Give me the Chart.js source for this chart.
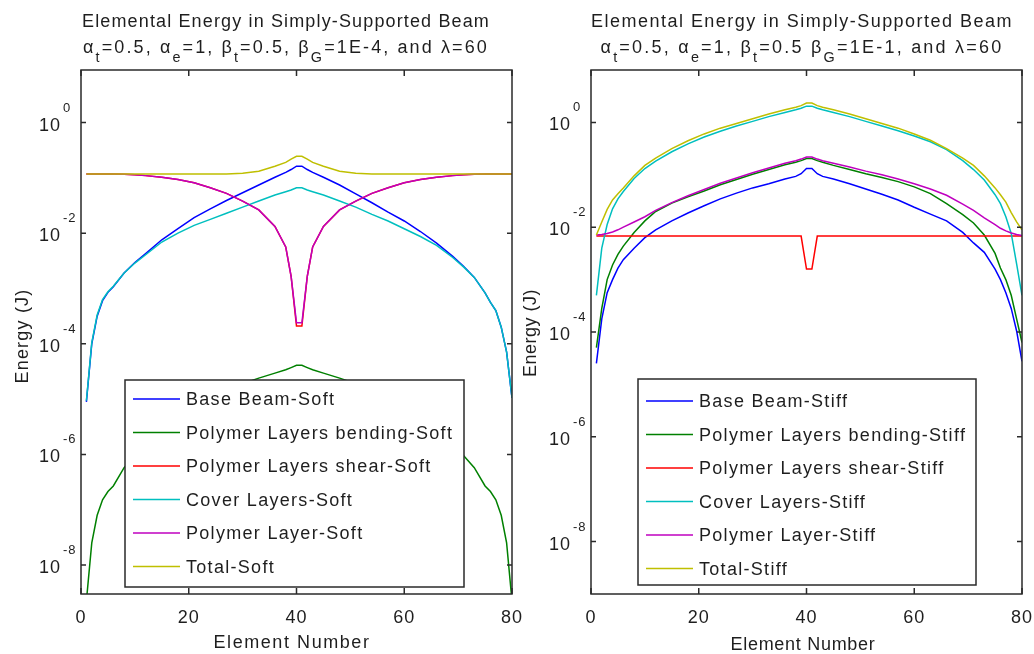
<!DOCTYPE html>
<html>
<head>
<meta charset="utf-8">
<script src="https://cdn.jsdelivr.net/npm/chart.js@4.4.1/dist/chart.umd.min.js"></script>
<style>
  body { margin: 0; background: #fff; }
  #wrap { position: relative; width: 1034px; height: 654px; overflow: hidden; }
  canvas { position: absolute; top: 0; }
</style>
</head>
<body>
<div id="wrap">
  <canvas id="soft" width="540" height="654" style="left:0"></canvas>
  <canvas id="stiff" width="517" height="654" style="left:517px"></canvas>
</div>
<script>
// element numbers where values were read off the plot
var elements = [1, 2, 3, 4, 5, 6, 8, 10, 12, 15, 18, 21, 24, 27, 30, 33, 36, 38, 39, 40,
                41, 42, 43, 45, 48, 51, 54, 57, 60, 63, 66, 69, 71, 73, 75, 76, 77, 78, 79, 80];

var xTicks = [0, 20, 40, 60, 80];
var yTickExps = [0, -2, -4, -6, -8];

var namesSoft = ['Base Beam-Soft', 'Polymer Layers bending-Soft', 'Polymer Layers shear-Soft',
                 'Cover Layers-Soft', 'Polymer Layer-Soft', 'Total-Soft'];
var namesStiff = ['Base Beam-Stiff', 'Polymer Layers bending-Stiff', 'Polymer Layers shear-Stiff',
                  'Cover Layers-Stiff', 'Polymer Layer-Stiff', 'Total-Stiff'];
var lineColors = ['#0000ff', '#008000', '#ff0000', '#00bfbf', '#bf00bf', '#bfbf00'];

// log10 of energy (J), soft core (beta_G = 1E-4)
var logBaseSoft = [-5.05, -4.0, -3.5, -3.22, -3.07, -2.97, -2.72, -2.53, -2.37, -2.12, -1.92, -1.72, -1.56, -1.41, -1.27, -1.13, -0.99, -0.9, -0.85, -0.79,
                   -0.79, -0.85, -0.9, -0.99, -1.13, -1.29, -1.45, -1.62, -1.78, -1.97, -2.18, -2.42, -2.6, -2.8, -3.08, -3.25, -3.4, -3.7, -4.15, -4.98];
var logBendSoft = [-8.65, -7.6, -7.1, -6.82, -6.67, -6.57, -6.24, -6.02, -5.83, -5.56, -5.34, -5.14, -4.98, -4.84, -4.72, -4.62, -4.53, -4.47, -4.43, -4.39,
                   -4.39, -4.43, -4.47, -4.53, -4.62, -4.72, -4.84, -4.98, -5.14, -5.34, -5.56, -5.83, -6.02, -6.24, -6.57, -6.67, -6.82, -7.1, -7.6, -8.65];
var logShearSoft = [-0.93, -0.93, -0.93, -0.93, -0.93, -0.93, -0.935, -0.945, -0.96, -0.99, -1.03, -1.09, -1.18, -1.28, -1.42, -1.58, -1.88, -2.25, -2.78, -3.68,
                    -3.68, -2.78, -2.25, -1.88, -1.58, -1.42, -1.28, -1.18, -1.09, -1.03, -0.99, -0.96, -0.945, -0.935, -0.93, -0.93, -0.93, -0.93, -0.93, -0.93];
var logCoverSoft = [-5.03, -3.98, -3.48, -3.2, -3.06, -2.96, -2.72, -2.54, -2.39, -2.16, -2.0, -1.86, -1.75, -1.64, -1.53, -1.42, -1.31, -1.25, -1.22, -1.18,
                    -1.18, -1.22, -1.25, -1.31, -1.42, -1.53, -1.66, -1.78, -1.92, -2.06, -2.22, -2.44, -2.61, -2.8, -3.08, -3.25, -3.4, -3.7, -4.15, -4.98];
var logLayerSoft = [-0.93, -0.93, -0.93, -0.93, -0.93, -0.93, -0.935, -0.945, -0.96, -0.99, -1.03, -1.09, -1.18, -1.28, -1.42, -1.58, -1.88, -2.25, -2.78, -3.62,
                    -3.62, -2.78, -2.25, -1.88, -1.58, -1.42, -1.28, -1.18, -1.09, -1.03, -0.99, -0.96, -0.945, -0.935, -0.93, -0.93, -0.93, -0.93, -0.93, -0.93];
var logTotalSoft = [-0.93, -0.93, -0.93, -0.93, -0.93, -0.93, -0.93, -0.93, -0.93, -0.93, -0.93, -0.93, -0.93, -0.93, -0.915, -0.88, -0.79, -0.72, -0.66, -0.61,
                    -0.61, -0.66, -0.72, -0.79, -0.88, -0.915, -0.93, -0.93, -0.93, -0.93, -0.93, -0.93, -0.93, -0.93, -0.93, -0.93, -0.93, -0.93, -0.93, -0.93];

// log10 of energy (J), stiff core (beta_G = 1E-1)
var logBaseStiff = [-4.6, -3.75, -3.25, -3.0, -2.78, -2.62, -2.4, -2.2, -2.05, -1.88, -1.73, -1.59, -1.46, -1.35, -1.25, -1.17, -1.08, -1.03, -0.98, -0.88,
                    -0.88, -0.98, -1.03, -1.08, -1.17, -1.27, -1.37, -1.48, -1.62, -1.75, -1.88, -2.1, -2.3, -2.48, -2.8, -3.0, -3.25, -3.55, -3.98, -4.56];
var logBendStiff = [-4.3, -3.55, -3.0, -2.72, -2.52, -2.36, -2.1, -1.88, -1.7, -1.54, -1.42, -1.31, -1.19, -1.09, -0.99, -0.9, -0.81, -0.76, -0.73, -0.69,
                    -0.69, -0.73, -0.76, -0.82, -0.9, -0.98, -1.05, -1.13, -1.23, -1.36, -1.55, -1.76, -1.92, -2.15, -2.5, -2.78, -3.0, -3.3, -3.75, -4.2];
var logShearStiff = [-2.17, -2.17, -2.17, -2.17, -2.17, -2.17, -2.17, -2.17, -2.17, -2.17, -2.17, -2.17, -2.17, -2.17, -2.17, -2.17, -2.17, -2.17, -2.17, -2.8,
                     -2.8, -2.17, -2.17, -2.17, -2.17, -2.17, -2.17, -2.17, -2.17, -2.17, -2.17, -2.17, -2.17, -2.17, -2.17, -2.17, -2.17, -2.17, -2.17, -2.17];
var logCoverStiff = [-3.3, -2.4, -1.95, -1.65, -1.46, -1.32, -1.07, -0.88, -0.74, -0.56, -0.41, -0.28, -0.17, -0.07, 0.02, 0.11, 0.19, 0.24, 0.27, 0.31,
                     0.31, 0.27, 0.24, 0.19, 0.11, 0.02, -0.07, -0.16, -0.26, -0.37, -0.52, -0.73, -0.9, -1.1, -1.38, -1.55, -1.8, -2.12, -2.7, -3.3];
var logLayerStiff = [-2.15, -2.14, -2.12, -2.09, -2.05, -2.0, -1.9, -1.8, -1.68, -1.53, -1.4, -1.28, -1.16, -1.06, -0.96, -0.87, -0.78, -0.73, -0.7, -0.66,
                     -0.66, -0.7, -0.73, -0.78, -0.85, -0.93, -1.0, -1.08, -1.17, -1.27, -1.39, -1.56, -1.68, -1.82, -1.95, -2.02, -2.07, -2.11, -2.14, -2.16];
var logTotalStiff = [-2.15, -1.9, -1.66, -1.48, -1.36, -1.25, -1.02, -0.82, -0.68, -0.5, -0.35, -0.22, -0.11, -0.02, 0.07, 0.16, 0.24, 0.29, 0.32, 0.37,
                     0.37, 0.32, 0.29, 0.24, 0.16, 0.07, -0.02, -0.11, -0.22, -0.34, -0.5, -0.68, -0.82, -1.02, -1.25, -1.38, -1.52, -1.72, -1.9, -2.05];

var FONT = '"Liberation Sans", Arial, Helvetica, sans-serif';
var INK = '#1e1e1e';

// draw a line of text made of [text, isSubscript] parts, centred on cx,
// letter spacing stretched so the line is `target` px wide
function drawRich(ctx, parts, cx, base, size, target) {
  var w0 = 0, n = 0;
  ctx.letterSpacing = '0px';
  parts.forEach(function (p) {
    ctx.font = (p[1] ? size * 0.8 : size) + 'px ' + FONT;
    w0 += ctx.measureText(p[0]).width;
    n += p[0].length;
  });
  var ls = target ? (target - w0) / n : 0;
  var x = cx - (w0 + ls * n) / 2;
  ctx.textAlign = 'left';
  ctx.textBaseline = 'alphabetic';
  parts.forEach(function (p) {
    ctx.font = (p[1] ? size * 0.8 : size) + 'px ' + FONT;
    ctx.letterSpacing = '0px';
    var w = ctx.measureText(p[0]).width;
    ctx.letterSpacing = ls + 'px';
    ctx.fillText(p[0], x, p[1] ? base + 9 : base);
    x += w + ls * p[0].length;
  });
  ctx.letterSpacing = '0px';
}

function matlabLook(p) {
  return {
    id: 'matlabLook',
    afterDraw: function (chart) {
      var ctx = chart.ctx, a = chart.chartArea;
      var xs = chart.scales.x, ys = chart.scales.y;
      ctx.save();
      ctx.fillStyle = INK;

      // titles
      drawRich(ctx, [['Elemental Energy in Simply-Supported Beam', 0]], p.titleX, 27, 18, p.title1W);
      drawRich(ctx, p.title2, p.titleX, 53, 18, p.title2W);

      // axes box with inward ticks
      ctx.strokeStyle = '#2a2a2a';
      ctx.lineWidth = 1.5;
      ctx.strokeRect(a.left, a.top, a.right - a.left, a.bottom - a.top);
      ctx.beginPath();
      xTicks.forEach(function (t) {
        var px = xs.getPixelForValue(t);
        ctx.moveTo(px, a.bottom); ctx.lineTo(px, a.bottom - 6);
        ctx.moveTo(px, a.top); ctx.lineTo(px, a.top + 6);
      });
      yTickExps.forEach(function (e) {
        var py = ys.getPixelForValue(Math.pow(10, e));
        ctx.moveTo(a.left, py); ctx.lineTo(a.left + 5, py);
        ctx.moveTo(a.right, py); ctx.lineTo(a.right - 5, py);
      });
      ctx.stroke();

      // tick labels
      ctx.textBaseline = 'alphabetic';
      xTicks.forEach(function (t) {
        ctx.font = '18px ' + FONT;
        ctx.letterSpacing = '1px';
        ctx.textAlign = 'center';
        ctx.fillText(String(t), xs.getPixelForValue(t), 623);
      });
      yTickExps.forEach(function (e) {
        var py = ys.getPixelForValue(Math.pow(10, e));
        ctx.letterSpacing = '1px';
        ctx.font = '18px ' + FONT;
        ctx.textAlign = 'right';
        ctx.fillText('10', a.left - 20, py + 8);
        ctx.font = '13px ' + FONT;
        ctx.textAlign = 'left';
        ctx.fillText(String(e), a.left - 18, py - 11);
      });

      // axis titles
      drawRich(ctx, [['Element Number', 0]], p.xLabelX, p.xLabelY, 18, p.xLabelW);
      ctx.save();
      ctx.translate(p.yLabelX, p.yLabelY);
      ctx.rotate(-Math.PI / 2);
      drawRich(ctx, [['Energy (J)', 0]], 0, 6, 18, p.yLabelW);
      ctx.restore();

      // legend
      var L = p.legend;
      ctx.fillStyle = '#fff';
      ctx.fillRect(L.x, L.y, L.w, L.h);
      ctx.strokeStyle = '#2a2a2a';
      ctx.lineWidth = 1.5;
      ctx.strokeRect(L.x, L.y, L.w, L.h);
      chart.data.datasets.forEach(function (ds, i) {
        var cy = L.row0 + i * L.step;
        ctx.strokeStyle = ds.borderColor;
        ctx.lineWidth = 1.5;
        ctx.beginPath();
        ctx.moveTo(L.x + 8, cy); ctx.lineTo(L.x + 55, cy);
        ctx.stroke();
        ctx.fillStyle = INK;
        ctx.font = '18px ' + FONT;
        ctx.letterSpacing = '1.3px';
        ctx.textAlign = 'left';
        ctx.fillText(ds.label, L.x + 61, cy + 6);
      });
      ctx.letterSpacing = '0px';
      ctx.restore();
    }
  };
}

function makePanel(id, p) {
  var datasets = p.series.map(function (vals, i) {
    return {
      label: p.names[i],
      data: elements.map(function (x, j) { return { x: x, y: Math.pow(10, vals[j]) }; }),
      borderColor: lineColors[i],
      borderWidth: 1.5,
      pointRadius: 0,
      tension: 0,
      fill: false,
      order: p.series.length - i
    };
  });
  return new Chart(document.getElementById(id).getContext('2d'), {
    type: 'line',
    data: { datasets: datasets },
    options: {
      responsive: false,
      animation: false,
      devicePixelRatio: 1,
      layout: { padding: p.pad },
      plugins: { legend: { display: false }, title: { display: false }, tooltip: { enabled: false } },
      scales: {
        x: { type: 'linear', display: false, min: 0, max: 80 },
        y: { type: 'logarithmic', display: false, bounds: 'data', min: p.yMin, max: p.yMax }
      }
    },
    plugins: [matlabLook(p)]
  });
}

makePanel('soft', {
  names: namesSoft,
  series: [logBaseSoft, logBendSoft, logShearSoft, logCoverSoft, logLayerSoft, logTotalSoft],
  pad: { left: 81, top: 70, right: 28, bottom: 60 },
  yMin: 3.0e-9, yMax: 8.9,
  titleX: 286, title1W: 408, title2W: 406,
  title2: [['α', 0], ['t', 1], ['=0.5, α', 0], ['e', 1], ['=1, β', 0], ['t', 1], ['=0.5, β', 0], ['G', 1], ['=1E-4, and λ=60', 0]],
  xLabelX: 292, xLabelY: 648, xLabelW: 157,
  yLabelX: 22, yLabelY: 336, yLabelW: 95,
  legend: { x: 125, y: 380, w: 339, h: 207, row0: 399, step: 33.5 }
});

makePanel('stiff', {
  names: namesStiff,
  series: [logBaseStiff, logBendStiff, logShearStiff, logCoverStiff, logLayerStiff, logTotalStiff],
  pad: { left: 74, top: 70, right: 12, bottom: 60 },
  yMin: 1e-9, yMax: 10,
  titleX: 285, title1W: 422, title2W: 403,
  title2: [['α', 0], ['t', 1], ['=0.5, α', 0], ['e', 1], ['=1, β', 0], ['t', 1], ['=0.5 β', 0], ['G', 1], ['=1E-1, and λ=60', 0]],
  xLabelX: 286, xLabelY: 650, xLabelW: 145,
  yLabelX: 13, yLabelY: 333, yLabelW: 88,
  legend: { x: 121, y: 379, w: 338, h: 206, row0: 401, step: 33.5 }
});
</script>
</body>
</html>
